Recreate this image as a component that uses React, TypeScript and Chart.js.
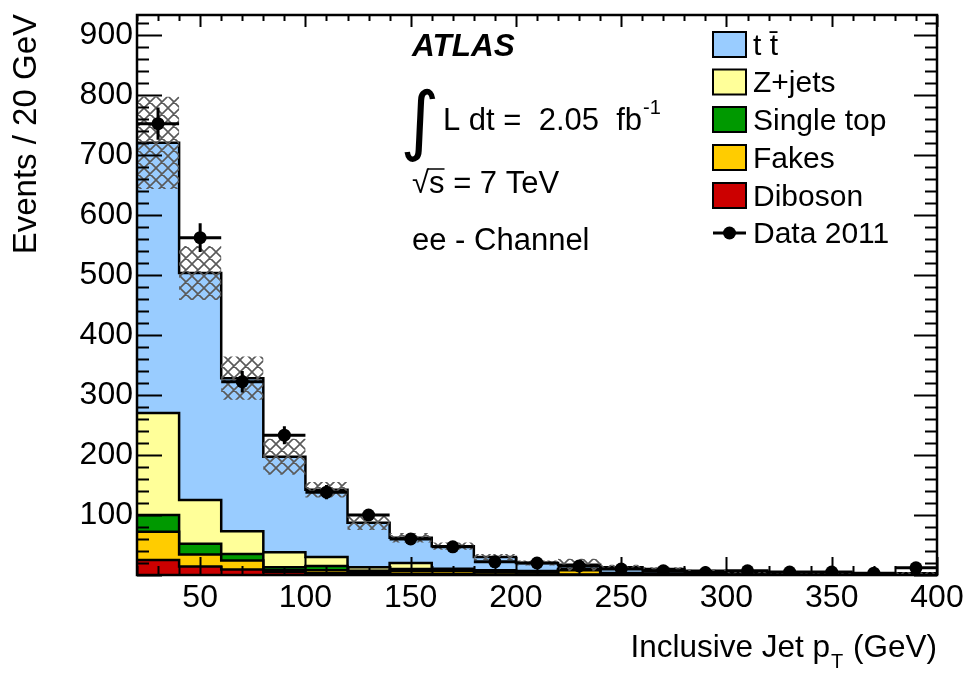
import React, { useEffect, useRef } from 'react';
import { Chart, registerables } from 'chart.js';

Chart.register(...registerables);

// ---------- data ----------
const binEdges = [20, 40, 60, 80, 100, 120, 140, 160, 180, 200, 220, 240, 260, 280, 300, 320, 340, 360, 380, 400];
const diboson = [25, 14, 9, 5, 3, 2, 2, 1.5, 1, 1, 0.8, 0.5, 0.4, 0.3, 0.3, 0.2, 0.2, 0.1, 0.1];
const fakes = [47, 20, 15, 3, 5, 3, 5, 5, 4, 3, 7, 1, 1, 0.6, 0.5, 0.5, 0.4, 0.3, 0.3];
const singleTop = [28, 18, 11, 5, 7, 2, 3, 2, 1.5, 1, 1, 0.7, 0.5, 0.4, 0.3, 0.3, 0.2, 0.2, 0.1];
const zJets = [170, 73, 38, 25, 15, 6, 10, 2, 1.5, 1.5, 1, 1, 0.8, 0.6, 0.5, 0.4, 0.3, 0.3, 0.2];
const ttbar = [450, 378, 255, 159, 112, 74, 42, 37.5, 22, 13.5, 7.2, 9.8, 7.3, 5.1, 3.4, 2.6, 1.9, 2.1, 2.3];
const mcUncertainty = [77, 45, 36, 30, 13, 12, 8, 6, 5, 4, 10, 4, 3, 2, 2, 2, 1.5, 1.5, 1.5];
const dataValues = [752, 562, 322, 233, 138, 100, 60, 47, 22, 20, 15, 10, 7, 4, 7, 5, 5, 3, 12];
const dataErrors = [27, 24, 18, 15, 12, 10, 8, 7, 5, 4.5, 4, 3, 2.6, 2, 2.6, 2.2, 2.2, 1.7, 3.5];
const xTickValues = [50, 100, 150, 200, 250, 300, 350, 400];
const yTickValues = [100, 200, 300, 400, 500, 600, 700, 800, 900];

const layerNames = ['Diboson', 'Fakes', 'Single top', 'Z+jets', 't t\u0304'];
const layerColors = ['#cc0000', '#ffcc00', '#009900', '#ffff99', '#99ccff'];
const legendOrder = [4, 3, 2, 1, 0];

const FONT = "'Liberation Sans', Arial, Helvetica, sans-serif";

function cumulative(layers: number[][]): number[][] {
  const out: number[][] = [];
  let run = layers[0].map(() => 0);
  layers.forEach((l) => {
    run = run.map((v, i) => v + l[i]);
    out.push(run.slice());
  });
  return out;
}

function stepPoints(values: number[]) {
  const pts = values.map((v, i) => ({ x: binEdges[i], y: v }));
  pts.push({ x: binEdges[binEdges.length - 1], y: values[values.length - 1] });
  return pts;
}

function makeHatch(): CanvasPattern | string {
  const c = document.createElement('canvas');
  c.width = 12;
  c.height = 12;
  const g = c.getContext('2d');
  if (!g) return 'rgba(80,80,80,0.4)';
  g.strokeStyle = '#5a5a5a';
  g.lineWidth = 1.6;
  g.beginPath();
  for (let k = -12; k <= 12; k += 12) {
    g.moveTo(k - 2, -2);
    g.lineTo(k + 14, 14);
    g.moveTo(k + 14, -2);
    g.lineTo(k - 2, 14);
  }
  g.stroke();
  return g.createPattern(c, 'repeat') || 'rgba(80,80,80,0.4)';
}

const decorPlugin = {
  id: 'atlasDecor',
  afterDatasetsDraw(chart: any) {
    const { ctx, scales } = chart;
    const x = scales.x;
    const y = scales.y;
    ctx.save();
    ctx.strokeStyle = '#000';
    ctx.lineWidth = 3;
    dataValues.forEach((v, i) => {
      const xl = x.getPixelForValue(binEdges[i]);
      const xr = x.getPixelForValue(binEdges[i + 1]);
      const xc = x.getPixelForValue((binEdges[i] + binEdges[i + 1]) / 2);
      const yv = y.getPixelForValue(v);
      const ylo = y.getPixelForValue(Math.max(0, v - dataErrors[i]));
      const yhi = y.getPixelForValue(v + dataErrors[i]);
      ctx.beginPath();
      ctx.moveTo(xl, yv);
      ctx.lineTo(xr, yv);
      ctx.moveTo(xc, ylo);
      ctx.lineTo(xc, yhi);
      ctx.stroke();
    });
    ctx.restore();
  },
  afterDraw(chart: any) {
    const { ctx, chartArea, scales } = chart;
    const x = scales.x;
    const y = scales.y;
    const { left, right, top, bottom } = chartArea;
    ctx.save();
    // frame
    ctx.strokeStyle = '#000';
    ctx.lineWidth = 2.5;
    ctx.strokeRect(left, top, right - left, bottom - top);
    // y ticks
    ctx.lineWidth = 2;
    ctx.beginPath();
    for (let v = 0; v <= 933; v += 20) {
      const py = Math.round(y.getPixelForValue(v)) + 0.5;
      const major = v % 100 === 0;
      const ll = major ? 25 : 12;
      const lr = major ? 23 : 12;
      ctx.moveTo(left, py);
      ctx.lineTo(left + ll, py);
      ctx.moveTo(right, py);
      ctx.lineTo(right - lr, py);
    }
    // x ticks
    for (let v = 20; v <= 400; v += 10) {
      const px = Math.round(x.getPixelForValue(v)) + 0.5;
      const major = v % 50 === 0;
      ctx.moveTo(px, bottom);
      ctx.lineTo(px, bottom - (major ? 18 : 9));
      ctx.moveTo(px, top);
      ctx.lineTo(px, top + (major ? 12 : 6));
    }
    ctx.stroke();

    ctx.fillStyle = '#000';
    // axis titles
    ctx.font = `33px ${FONT}`;
    ctx.textBaseline = 'alphabetic';
    ctx.save();
    ctx.translate(36, 14);
    ctx.rotate(-Math.PI / 2);
    ctx.textAlign = 'right';
    ctx.fillText('Events / 20 GeV', 0, 0);
    ctx.restore();

    const t1 = 'Inclusive Jet p';
    const t3 = ' (GeV)';
    ctx.font = `31.5px ${FONT}`;
    const w1 = ctx.measureText(t1).width;
    const w3 = ctx.measureText(t3).width;
    ctx.font = `20px ${FONT}`;
    const w2 = ctx.measureText('T').width + 2;
    const sx = right - (w1 + w2 + w3);
    ctx.textAlign = 'left';
    ctx.font = `31.5px ${FONT}`;
    ctx.fillText(t1, sx, 657);
    ctx.fillText(t3, sx + w1 + w2, 657);
    ctx.font = `20px ${FONT}`;
    ctx.fillText('T', sx + w1 + 1, 668);

    // ATLAS label
    ctx.font = `italic bold 31.5px ${FONT}`;
    ctx.fillText('ATLAS', 412, 56);

    // integral
    ctx.font = `100px 'DejaVu Sans'`;
    const m = ctx.measureText('\u222B');
    const h = m.actualBoundingBoxAscent + m.actualBoundingBoxDescent;
    const sc = 74 / h;
    ctx.font = `${(100 * sc).toFixed(1)}px 'DejaVu Sans'`;
    const m2 = ctx.measureText('\u222B');
    ctx.fillText('\u222B', 404 + m2.actualBoundingBoxLeft, 88 + m2.actualBoundingBoxAscent);

    ctx.font = `31px ${FONT}`;
    const lumi = 'L dt =  2.05  fb';
    ctx.fillText(lumi, 443, 130);
    const lw = ctx.measureText(lumi).width;
    ctx.font = `20px ${FONT}`;
    ctx.fillText('-1', 443 + lw + 1, 114);

    // sqrt s
    ctx.font = `31px ${FONT}`;
    const sq = '\u221A';
    const msq = ctx.measureText(sq);
    ctx.fillText(sq, 412, 193);
    const sStart = 412 + msq.width;
    const rest = 's = 7 TeV';
    ctx.fillText(rest, sStart, 193);
    const sw = ctx.measureText('s').width;
    ctx.lineWidth = 1.5;
    ctx.beginPath();
    const oy = 193 - msq.actualBoundingBoxAscent + 1;
    ctx.moveTo(sStart - 1, oy);
    ctx.lineTo(sStart + sw, oy);
    ctx.stroke();

    ctx.fillText('ee - Channel', 412, 250);

    // legend
    const boxX = 713;
    const boxW = 33;
    const boxH = 25;
    const rowY = [44.5, 82, 119.5, 157.5, 195.5, 233];
    ctx.font = `30px ${FONT}`;
    ctx.textBaseline = 'middle';
    legendOrder.forEach((li, r) => {
      const cy = rowY[r];
      ctx.fillStyle = layerColors[li];
      ctx.fillRect(boxX, cy - boxH / 2, boxW, boxH);
      ctx.strokeStyle = '#000';
      ctx.lineWidth = 2;
      ctx.strokeRect(boxX, cy - boxH / 2, boxW, boxH);
      ctx.fillStyle = '#000';
      ctx.fillText(layerNames[li], 753, cy + 2);
    });
    const dy = rowY[5];
    ctx.lineWidth = 3;
    ctx.beginPath();
    ctx.moveTo(boxX, dy);
    ctx.lineTo(boxX + boxW, dy);
    ctx.stroke();
    ctx.beginPath();
    ctx.arc(boxX + boxW / 2, dy, 6.5, 0, Math.PI * 2);
    ctx.fill();
    ctx.fillText('Data 2011', 753, dy + 2);

    ctx.restore();
  },
};

export default function App() {
  const canvasRef = useRef<HTMLCanvasElement | null>(null);

  useEffect(() => {
    const canvas = canvasRef.current;
    if (!canvas) return;
    const hatch = makeHatch();
    const cum = cumulative([diboson, fakes, singleTop, zJets, ttbar]);
    const total = cum[cum.length - 1];
    const bandLo = total.map((v, i) => Math.max(0, v - mcUncertainty[i]));
    const bandHi = total.map((v, i) => v + mcUncertainty[i]);

    const mcSets = cum.map((c, i) => ({
      label: layerNames[i],
      data: stepPoints(c),
      stepped: true,
      borderColor: '#000',
      borderWidth: 2.5,
      backgroundColor: layerColors[i],
      fill: i === 0 ? 'origin' : '-1',
      pointRadius: 0,
      order: 2,
    }));

    const chart = new Chart(canvas, {
      type: 'line',
      data: {
        datasets: [
          ...mcSets,
          {
            label: 'bandLo',
            data: stepPoints(bandLo),
            stepped: true,
            borderWidth: 0,
            borderColor: 'rgba(0,0,0,0)',
            pointRadius: 0,
            fill: false,
            order: 1,
          },
          {
            label: 'bandHi',
            data: stepPoints(bandHi),
            stepped: true,
            borderWidth: 0,
            borderColor: 'rgba(0,0,0,0)',
            backgroundColor: hatch as any,
            pointRadius: 0,
            fill: '-1',
            order: 1,
          },
          {
            label: 'Data 2011',
            data: dataValues.map((v, i) => ({ x: (binEdges[i] + binEdges[i + 1]) / 2, y: v })),
            showLine: false,
            pointRadius: 6.5,
            pointBackgroundColor: '#000',
            pointBorderColor: '#000',
            pointBorderWidth: 0,
            order: 0,
          },
        ] as any,
      },
      options: {
        animation: false,
        responsive: false,
        maintainAspectRatio: false,
        devicePixelRatio: 1,
        layout: { padding: { left: 0, right: 27, top: 15, bottom: 0 } },
        plugins: { legend: { display: false }, tooltip: { enabled: false } },
        scales: {
          x: {
            type: 'linear',
            min: 20,
            max: 400,
            grid: { display: false, drawTicks: false, tickLength: 0 },
            border: { display: false },
            ticks: {
              autoSkip: false,
              maxRotation: 0,
              color: '#000',
              padding: 4,
              font: { family: FONT, size: 32 },
            },
            afterBuildTicks: (s: any) => {
              s.ticks = xTickValues.map((v) => ({ value: v }));
            },
            afterFit: (s: any) => {
              s.height = 98;
              s.paddingLeft = 0;
              s.paddingRight = 0;
            },
          },
          y: {
            type: 'linear',
            min: 0,
            max: 933,
            grid: { display: false, drawTicks: false, tickLength: 0 },
            border: { display: false },
            ticks: {
              autoSkip: false,
              color: '#000',
              padding: 4,
              font: { family: FONT, size: 32 },
            },
            afterBuildTicks: (s: any) => {
              s.ticks = yTickValues.map((v) => ({ value: v }));
            },
            afterFit: (s: any) => {
              s.width = 137;
              s.paddingTop = 0;
              s.paddingBottom = 0;
            },
          },
        },
      } as any,
      plugins: [decorPlugin],
    });
    return () => chart.destroy();
  }, []);

  return (
    <div style={{ position: 'absolute', left: 0, top: 0, width: 964, height: 673, background: '#fff' }}>
      <canvas ref={canvasRef} width={964} height={673} style={{ display: 'block' }} />
    </div>
  );
}
